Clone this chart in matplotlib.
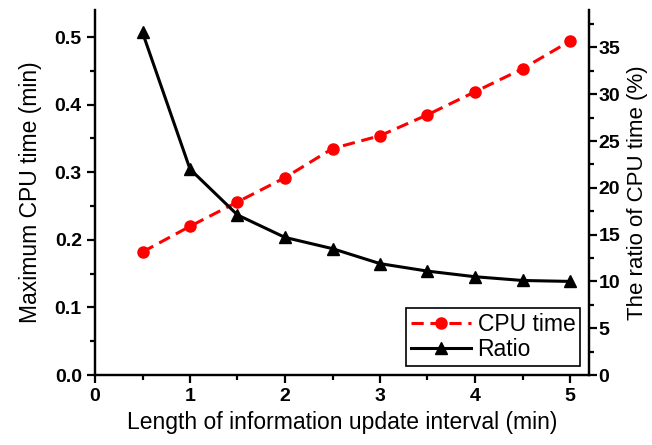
import matplotlib
matplotlib.use('Agg')
from matplotlib import pyplot as plt
from matplotlib.ticker import MultipleLocator

plt.rcParams['font.family'] = ['Liberation Sans', 'DejaVu Sans']

# data
interval = [0.5, 1.0, 1.5, 2.0, 2.5, 3.0, 3.5, 4.0, 4.5, 5.0]
cpu_time = [0.182, 0.220, 0.256, 0.292, 0.335, 0.354, 0.385, 0.419, 0.453, 0.494]
ratio = [36.6, 22.0, 17.1, 14.7, 13.5, 11.9, 11.1, 10.5, 10.1, 10.0]

fig = plt.figure(figsize=(6.52, 4.45), dpi=100)
ax = fig.add_axes([95 / 652, 70 / 445, 494 / 652, 365 / 445])
ax2 = ax.twinx()

l1, = ax.plot(interval, cpu_time, color='red', linestyle='--', dashes=(4, 2.2),
              linewidth=2.2, marker='o', markersize=8, label='CPU time')
l2, = ax2.plot(interval, ratio, color='black', linewidth=2.2, marker='^',
               markersize=8.5, label='Ratio')

ax.set_xlim(0, 5.2)
ax.set_ylim(0, 0.54)
ax2.set_ylim(0, 39.0)

ax.xaxis.set_major_locator(MultipleLocator(1))
ax.xaxis.set_minor_locator(MultipleLocator(0.5))
ax.yaxis.set_major_locator(MultipleLocator(0.1))
ax.yaxis.set_minor_locator(MultipleLocator(0.05))
ax2.yaxis.set_major_locator(MultipleLocator(5))
ax2.yaxis.set_minor_locator(MultipleLocator(2.5))
ax.yaxis.set_major_formatter(plt.FormatStrFormatter('%.1f'))

for a in (ax, ax2):
    a.spines['top'].set_visible(False)
    for s in a.spines.values():
        s.set_linewidth(1.6)
    a.tick_params(which='major', direction='out', length=6, width=1.6,
                  labelsize=14, pad=3.5)
    a.tick_params(which='minor', direction='out', length=3.5, width=1.6)
    for lab in a.get_xticklabels() + a.get_yticklabels():
        lab.set_fontweight('bold')
ax2.tick_params(axis='y', which='major', pad=1)

ax.set_xlabel('Length of information update interval (min)', fontsize=16.5, labelpad=4)
ax.set_ylabel('Maximum CPU time (min)', fontsize=16.5, labelpad=9)
ax2.set_ylabel('The ratio of CPU time (%)', fontsize=16, labelpad=5)

leg = ax2.legend([l1, l2], ['CPU time', 'Ratio'], loc='lower right', fontsize=16.5,
                 fancybox=False, edgecolor='black', framealpha=1,
                 borderpad=0.2, labelspacing=0.1, handlelength=2.6,
                 handletextpad=0.3, borderaxespad=0.4)
leg.get_frame().set_linewidth(1.2)

plt.savefig('out.png', dpi=100)
